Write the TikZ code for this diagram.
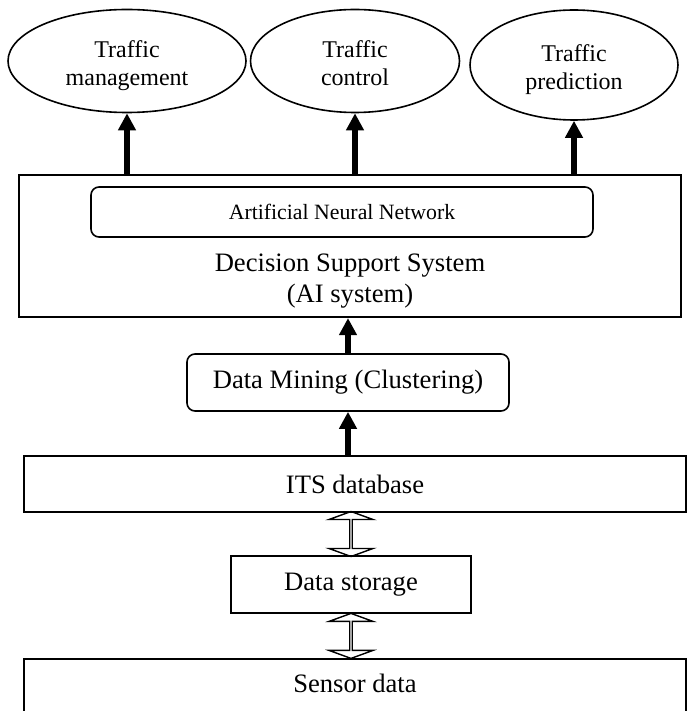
\documentclass[tikz,border=0pt]{standalone}
\usepackage{fontspec}
\setmainfont{Liberation Serif}
\usetikzlibrary{shapes.geometric,shapes.arrows,arrows.meta,calc}

\tikzset{
  goal/.style={draw, ellipse, line width=0.8pt, inner sep=0pt, align=center,
    text height=27pt, text depth=2.4pt, font=\fontsize{12}{14}\selectfont},
  box/.style={draw, rectangle, line width=0.8pt, inner sep=0pt,
    font=\fontsize{13.3}{15.5}\selectfont, align=center},
  roundbox/.style={box, rounded corners=4pt},
  flow/.style={line width=2.6pt, -{Triangle[length=8.5pt,width=8.5pt]}},
  dblarrow/.style={draw, double arrow, rotate=90, line width=0.7pt, inner sep=0pt,
    minimum width=22pt, minimum height=22.5pt,
    double arrow head extend=6pt, double arrow tip angle=140}
}

\begin{document}
\begin{tikzpicture}[x=0.5pt, y=-0.5pt]
\useasboundingbox (0,0) rectangle (694,711);

% the three goals on top
\node (manage) [goal, minimum width=119pt, minimum height=51.5pt] at (127,61) {Traffic\\management};
\node (control) [goal, minimum width=104.5pt, minimum height=51.5pt] at (355,61) {Traffic\\control};
\node (predict) [goal, minimum width=104pt, minimum height=55pt] at (574,65) {Traffic\\prediction};

% decision support system with the network inside
\node (dss) [box, line width=1.1pt, minimum width=331pt, minimum height=71pt] at (350,246) {};
\node (ann) [roundbox, minimum width=251pt, minimum height=25pt,
  font=\fontsize{10.9}{13}\selectfont] at (342,212) {Artificial Neural Network};
\node (dsstext) [font=\fontsize{13.3}{15.5}\selectfont, align=center] at (350,281)
  {Decision Support System\\(AI system)};

% mining and the database
\node (mining) [roundbox, minimum width=161pt, minimum height=28.5pt] at (348,382.5) {Data Mining (Clustering)};
\node (its) [box, minimum width=331pt, minimum height=28pt] at (355,484) {ITS database};
\node (store) [box, minimum width=120pt, minimum height=28.5pt] at (351,584.5) {Data storage};

% sensor data, cut off at the bottom
\node (sensor) [box, anchor=north, minimum width=331pt, inner ysep=0pt,
  text height=17pt, text depth=60pt] at (355,658) {Sensor data};

% arrows up
\draw[flow] (dss.north -| manage.south) -- (manage.south);
\draw[flow] (dss.north -| control.south) -- (control.south);
\draw[flow] (dss.north -| predict.south) -- (predict.south);
\draw[flow] (mining.north) -- (dss.south -| mining.north);
\draw[flow] (its.north -| mining.south) -- (mining.south);

% two way arrows
\node (up) [dblarrow] at ($(store.north)!0.5!(store.north |- its.south)$) {};
\node (down) [dblarrow] at ($(store.south)!0.5!(store.south |- sensor.north)$) {};

\end{tikzpicture}
\end{document}
